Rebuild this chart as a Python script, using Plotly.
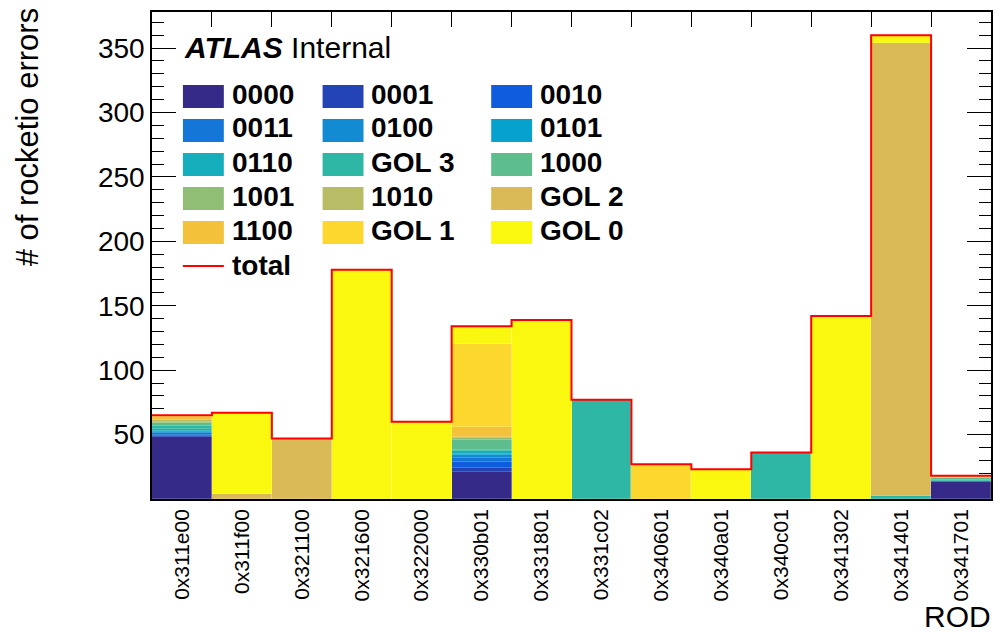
import numpy as np
import plotly.graph_objects as go

# ROD identifiers (one histogram bin each)
rods = ["0x311e00", "0x311f00", "0x321100", "0x321600", "0x322000", "0x330b01",
        "0x331801", "0x331c02", "0x340601", "0x340a01", "0x340c01", "0x341302",
        "0x341401", "0x341701"]

# rocketio error counts per error code, stacked in this order (bottom -> top)
e0000 = [48, 0, 0, 0, 0, 21, 0, 0, 0, 0, 0, 0, 0, 13]
e0001 = [1, 0, 0, 0, 0, 3, 0, 0, 0, 0, 0, 0, 0, 0]
e0010 = [1, 0, 0, 0, 0, 5, 0, 0, 0, 0, 0, 0, 0, 1]
e0011 = [1, 0, 0, 0, 0, 3, 0, 0, 0, 0, 0, 0, 0, 0]
e0100 = [1, 0, 0, 0, 0, 2, 0, 0, 0, 0, 0, 0, 0, 0]
e0101 = [1, 0, 0, 0, 0, 1, 0, 0, 0, 0, 0, 0, 0, 0]
e0110 = [1, 0, 0, 0, 0, 2, 0, 0, 0, 0, 0, 0, 0, 0]
gol3 = [3, 0, 0, 0, 0, 1, 0, 77, 0, 0, 36, 0, 2, 1]
e1000 = [2, 0, 0, 0, 0, 8, 0, 0, 0, 0, 0, 0, 0, 1]
e1001 = [1, 0, 0, 0, 0, 1, 0, 0, 0, 0, 0, 0, 0, 0]
e1010 = [1, 0, 0, 0, 0, 1, 0, 0, 0, 0, 0, 0, 0, 0]
gol2 = [0, 4, 47, 0, 0, 0, 0, 0, 0, 0, 0, 0, 352, 0]
e1100 = [3, 0, 0, 0, 0, 8, 0, 0, 0, 0, 0, 0, 0, 1]
gol1 = [1, 0, 0, 0, 0, 64, 0, 0, 27, 0, 0, 0, 0, 1]
gol0 = [0, 63, 0, 178, 60, 14, 139, 0, 0, 23, 0, 142, 6, 0]

names = ["0000", "0001", "0010", "0011", "0100", "0101", "0110", "GOL 3",
         "1000", "1001", "1010", "GOL 2", "1100", "GOL 1", "GOL 0"]
series = [e0000, e0001, e0010, e0011, e0100, e0101, e0110, gol3,
          e1000, e1001, e1010, gol2, e1100, gol1, gol0]
colors = ["#352a87", "#2244b4", "#0f5cdd", "#1477d8", "#128bd2", "#07a1ce",
          "#14aebc", "#2eb7a4", "#5dbd8c", "#8fbe74", "#b8bc65", "#d9ba56",
          "#f3c13a", "#fcd82e", "#f9f80e"]

y_tickvals = [50, 100, 150, 200, 250, 300, 350]

FONT = "Liberation Sans, Arial, sans-serif"
W, H = 995, 633
L, R, T, B = 152, 2, 12, 134
PW, PH = W - L - R, H - T - B


def px(x):
    return (x - L) / PW


def py(y):
    return (H - B - y) / PH


idx = np.arange(len(rods))
edges = np.arange(len(rods) + 1) - 0.5
totals = np.sum(np.array(series), axis=0)

fig = go.Figure()
for name, vals, col in zip(names, series, colors):
    fig.add_trace(go.Bar(
        x=idx, y=[v if v else None for v in vals], name=name, width=1.0,
        marker=dict(color=col, line=dict(color="rgba(255,255,255,0.3)", width=0.6)),
        showlegend=False, hoverinfo="x+y+name",
    ))

# outline of the summed histogram
fig.add_trace(go.Scatter(
    x=edges, y=list(totals) + [totals[-1]], mode="lines",
    line=dict(color="#ff0000", width=2, shape="hv"),
    name="total", showlegend=False, xaxis="x2", yaxis="y",
))

shapes = []
annotations = []

# legend block: three columns of filled swatches
col_x = [183, 323, 492]
row_y = [96.5, 130.5, 164.5, 198.5, 232.5]
sw_w, sw_h = 41, 23
for i, (name, col) in enumerate(zip(names, colors)):
    r, c = divmod(i, 3)
    x0, yc = col_x[c], row_y[r]
    shapes.append(dict(type="rect", xref="paper", yref="paper",
                       x0=px(x0), x1=px(x0 + sw_w), y0=py(yc + sw_h / 2), y1=py(yc - sw_h / 2),
                       fillcolor=col, line=dict(width=0), layer="above"))
    annotations.append(dict(xref="paper", yref="paper", x=px(x0 + 47), y=py(yc - 2.5),
                            xanchor="left", yanchor="middle", showarrow=False,
                            text="<b>%s</b>" % name,
                            font=dict(family=FONT, size=28, color="black")))
shapes.append(dict(type="line", xref="paper", yref="paper",
                   x0=px(183), x1=px(224), y0=py(266), y1=py(266),
                   line=dict(color="#ff0000", width=2), layer="above"))
annotations.append(dict(xref="paper", yref="paper", x=px(230), y=py(265.5),
                        xanchor="left", yanchor="middle", showarrow=False,
                        text="<b>total</b>", font=dict(family=FONT, size=28, color="black")))

annotations.append(dict(xref="paper", yref="paper", x=px(182), y=py(48),
                        xanchor="left", yanchor="middle", showarrow=False,
                        text="<b><i>ATLAS</i></b> Internal",
                        font=dict(family=FONT, size=30, color="black")))
annotations.append(dict(xref="paper", yref="paper", x=px(28), y=py(6),
                        xanchor="center", yanchor="top", showarrow=False, textangle=-90,
                        text="# of rocketio errors",
                        font=dict(family=FONT, size=31, color="black")))
annotations.append(dict(xref="paper", yref="paper", x=px(995), y=py(635),
                        xanchor="right", yanchor="bottom", showarrow=False,
                        text="ROD", font=dict(family=FONT, size=30, color="black")))

fig.update_layout(
    width=W, height=H, margin=dict(l=L, r=R, t=T, b=B, pad=0),
    paper_bgcolor="white", plot_bgcolor="white",
    barmode="stack", bargap=0,
    font=dict(family=FONT, color="black"),
    shapes=shapes, annotations=annotations,
    xaxis=dict(range=[-0.5, len(rods) - 0.5], tickmode="array", tickvals=idx, ticktext=rods,
               tickangle=-90, ticks="", showgrid=False, zeroline=False,
               showline=True, linecolor="black", linewidth=1.5, mirror=True,
               tickfont=dict(family=FONT, size=21, color="black"), layer="below traces"),
    xaxis2=dict(range=[-0.5, len(rods) - 0.5], overlaying="x", side="top", anchor="y",
                tickmode="array", tickvals=edges, ticks="inside", ticklen=15,
                tickwidth=1.3, tickcolor="black", showticklabels=False,
                showgrid=False, zeroline=False, showline=False, layer="below traces"),
    yaxis=dict(range=[0, 378], tickmode="array", tickvals=y_tickvals,
               ticks="inside", ticklen=24, tickwidth=1.3, tickcolor="black",
               minor=dict(tickmode="linear", tick0=0, dtick=10, ticks="inside",
                          ticklen=12, tickwidth=1.3, tickcolor="black"),
               showgrid=False, zeroline=False, showline=True, linecolor="black",
               linewidth=1.5, mirror="ticks", layer="below traces",
               tickfont=dict(family=FONT, size=28, color="black")),
)

fig.write_html("out.html")
